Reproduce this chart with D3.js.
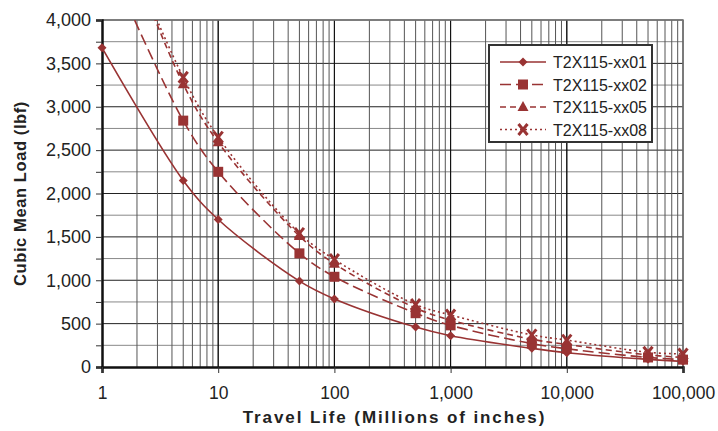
<!DOCTYPE html>
<html>
<head>
<meta charset="utf-8">
<script src="https://cdn.jsdelivr.net/npm/d3@7"></script>
<style>
  body { margin: 0; background: #fff; }
  svg { font-family: "Liberation Sans", Arial, sans-serif; }
</style>
</head>
<body>
<div id="chart"></div>
<script>
// travel life values (millions of inches)
const travelLife = [1, 5, 10, 50, 100, 500, 1000, 5000, 10000, 50000, 100000];

// cubic mean load (lbf) per part number
const xx01 = [3680, 2150, 1700, 990, 785, 460, 360, 215, 165, 88, 65];
const xx02 = [4840, 2840, 2250, 1310, 1040, 620, 480, 270, 210, 110, 85];
const xx05 = [5560, 3260, 2590, 1510, 1190, 680, 540, 320, 260, 140, 110];
const xx08 = [5500, 3340, 2650, 1540, 1240, 720, 600, 370, 310, 170, 150];

const seriesNames = ["T2X115-xx01", "T2X115-xx02", "T2X115-xx05", "T2X115-xx08"];
const xTicks = [1, 10, 100, 1000, 10000, 100000];

const width = 718;
const height = 431;
const margin = { top: 20, right: 35, bottom: 64, left: 102 };
const red = "#993333";

const series = [
  { name: seriesNames[0], values: xx01, dash: null, marker: "diamond" },
  { name: seriesNames[1], values: xx02, dash: "11,5", marker: "square" },
  { name: seriesNames[2], values: xx05, dash: "6,4", marker: "triangle" },
  { name: seriesNames[3], values: xx08, dash: "2,3", marker: "x" }
];

const x = d3.scaleLog()
  .domain([1, 100000])
  .range([margin.left, width - margin.right]);

const y = d3.scaleLinear()
  .domain([0, 4000])
  .range([height - margin.bottom, margin.top]);

const svg = d3.select("#chart")
  .append("svg")
  .attr("width", width)
  .attr("height", height);

svg.append("clipPath").attr("id", "plot")
  .append("rect")
  .attr("x", margin.left)
  .attr("y", margin.top)
  .attr("width", width - margin.left - margin.right)
  .attr("height", height - margin.top - margin.bottom);

const grid = svg.append("g");

// horizontal grid: every 250, the 500s darker
d3.range(250, 4001, 250).forEach((v) => {
  grid.append("line")
    .attr("x1", margin.left).attr("x2", width - margin.right)
    .attr("y1", y(v)).attr("y2", y(v))
    .attr("stroke", v % 500 === 0 ? "#222" : "#888")
    .attr("stroke-width", 1);
});

// vertical grid: every log step
const logLines = [];
for (let p = 0; p < 5; p++) {
  for (let k = 1; k <= 10; k++) logLines.push(k * Math.pow(10, p));
}
logLines.forEach((v) => {
  if (v === 1) return;
  const major = xTicks.includes(v);
  grid.append("line")
    .attr("x1", x(v)).attr("x2", x(v))
    .attr("y1", margin.top).attr("y2", y(0))
    .attr("stroke", major ? "#111" : "#555")
    .attr("stroke-width", 1);
});

// top + right frame
svg.append("path")
  .attr("d", `M${margin.left},${margin.top}H${width - margin.right}V${y(0)}`)
  .attr("fill", "none")
  .attr("stroke", "#777")
  .attr("stroke-width", 1.5);

// axes
const yAxis = svg.append("g")
  .attr("transform", `translate(${margin.left},0)`)
  .call(d3.axisLeft(y).tickValues(d3.range(0, 4001, 250)).tickSize(6)
    .tickFormat((d) => (d % 500 === 0 ? d3.format(",")(d) : "")));
yAxis.select(".domain").attr("stroke", "#111").attr("stroke-width", 2.5);
yAxis.selectAll(".tick line").attr("stroke", "#333");
yAxis.selectAll("text")
  .attr("x", -11)
  .style("font-size", "18px")
  .attr("fill", "#222");

const xAxis = svg.append("g")
  .attr("transform", `translate(0,${y(0)})`)
  .call(d3.axisBottom(x).tickValues(xTicks).tickSize(6)
    .tickFormat(d3.format(",")));
xAxis.select(".domain").attr("stroke", "#111").attr("stroke-width", 2.5);
xAxis.selectAll(".tick line").attr("stroke", "#333");
xAxis.selectAll("text")
  .attr("y", 20)
  .style("font-size", "17.5px")
  .attr("fill", "#222");

// axis titles
svg.append("text")
  .attr("x", (margin.left + width - margin.right) / 2 + 2)
  .attr("y", 423)
  .attr("text-anchor", "middle")
  .style("font-size", "17px")
  .style("font-weight", "bold")
  .style("letter-spacing", "1.9px")
  .attr("fill", "#222")
  .text("Travel Life (Millions of inches)");

svg.append("text")
  .attr("transform", `translate(26,${(margin.top + y(0)) / 2}) rotate(-90)`)
  .attr("text-anchor", "middle")
  .style("font-size", "16.5px")
  .style("font-weight", "bold")
  .style("letter-spacing", "0.6px")
  .attr("fill", "#222")
  .text("Cubic Mean Load (lbf)");

// markers
function drawMarker(g, type, cx, cy) {
  if (type === "diamond") {
    g.append("path")
      .attr("d", `M${cx},${cy - 4.5}L${cx + 4.5},${cy}L${cx},${cy + 4.5}L${cx - 4.5},${cy}Z`)
      .attr("fill", red);
  } else if (type === "square") {
    g.append("rect")
      .attr("x", cx - 5).attr("y", cy - 5)
      .attr("width", 10).attr("height", 10)
      .attr("fill", red);
  } else if (type === "triangle") {
    g.append("path")
      .attr("d", `M${cx},${cy - 6}L${cx + 5.5},${cy + 4}L${cx - 5.5},${cy + 4}Z`)
      .attr("fill", red);
  } else {
    g.append("path")
      .attr("d", `M${cx - 4.5},${cy - 5.5}L${cx + 4.5},${cy + 5.5}M${cx + 4.5},${cy - 5.5}L${cx - 4.5},${cy + 5.5}`)
      .attr("stroke", red)
      .attr("stroke-width", 3);
  }
}

const line = d3.line()
  .x((d) => x(d[0]))
  .y((d) => y(d[1]))
  .curve(d3.curveCatmullRom.alpha(0.5));

const plot = svg.append("g").attr("clip-path", "url(#plot)");

series.forEach((s) => {
  const pts = travelLife.map((t, i) => [t, s.values[i]]);
  plot.append("path")
    .datum(pts)
    .attr("d", line)
    .attr("fill", "none")
    .attr("stroke", red)
    .attr("stroke-width", 1.6)
    .attr("stroke-dasharray", s.dash);
});

// markers on top, only where in range
const markG = svg.append("g");
series.forEach((s) => {
  travelLife.forEach((t, i) => {
    const v = s.values[i];
    if (v <= 4000) drawMarker(markG, s.marker, x(t), y(v));
  });
});

// legend
const lg = svg.append("g").attr("transform", "translate(489,45)");
lg.append("rect")
  .attr("width", 163).attr("height", 97)
  .attr("fill", "#fff")
  .attr("stroke", "#333")
  .attr("stroke-width", 2);

series.forEach((s, i) => {
  const ly = 17 + i * 22.5;
  lg.append("line")
    .attr("x1", 11).attr("x2", 57)
    .attr("y1", ly).attr("y2", ly)
    .attr("stroke", red)
    .attr("stroke-width", 1.6)
    .attr("stroke-dasharray", s.dash);
  drawMarker(lg, s.marker, 34, ly);
  lg.append("text")
    .attr("x", 64)
    .attr("y", ly + 6)
    .style("font-size", "16px")
    .attr("fill", "#222")
    .text(s.name);
});
</script>
</body>
</html>
